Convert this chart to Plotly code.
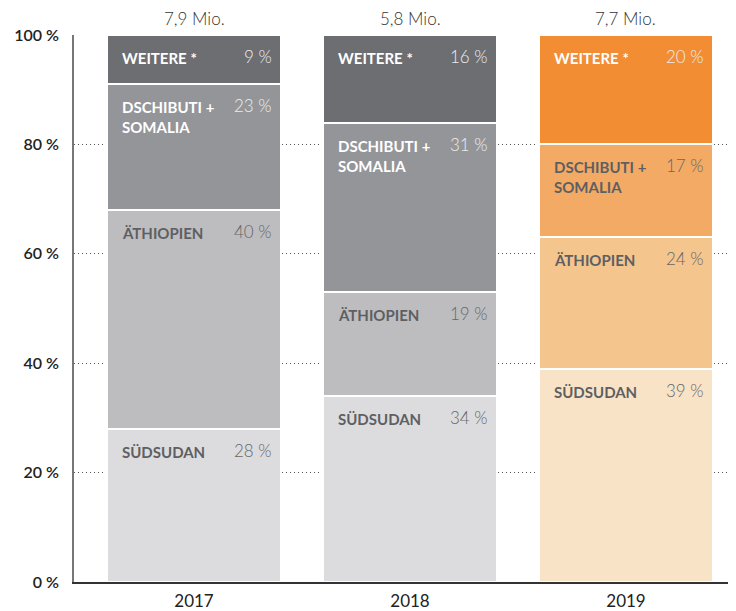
import plotly.graph_objects as go

years = ["2017", "2018", "2019"]
totals = ["7,9 Mio.", "5,8 Mio.", "7,7 Mio."]
series = ["SÜDSUDAN", "ÄTHIOPIEN", "DSCHIBUTI +<br>SOMALIA", "WEITERE *"]
suedsudan = [28, 34, 39]
aethiopien = [40, 19, 24]
dschibuti = [23, 31, 17]
weitere = [9, 16, 20]
values = [suedsudan, aethiopien, dschibuti, weitere]

gray_cols = ["#dcdcde", "#bdbdbf", "#949599", "#6d6e72"]
orange_cols = ["#f9e3c6", "#f5c58e", "#f3aa64", "#f28d33"]

BW = 0.806
fig = go.Figure()
for k, name in enumerate(series):
    cols = [gray_cols[k], gray_cols[k], orange_cols[k]]
    fig.add_trace(go.Bar(
        x=years, y=values[k], name=name, width=BW,
        marker=dict(color=cols, line=dict(color="white", width=2)),
        hoverinfo="skip", showlegend=False))

FONT = "Lato"
annos = []
for i, yr in enumerate(years):
    cum = 0
    for k, name in enumerate(series):
        cum += values[k][i]
        dark_seg = (k >= 2 and i < 2) or (k == 3)
        lab_col = "white" if dark_seg else "#5e5f63"
        pct_col = "#ececec" if dark_seg else "#66676b"
        annos.append(dict(x=i - BW / 2, y=cum, xref="x", yref="y", text=f"<b>{name}</b>",
                          xanchor="left", yanchor="top", align="left", xshift=13, yshift=-12,
                          showarrow=False, font=dict(family=FONT, size=15, color=lab_col)))
        annos.append(dict(x=i + BW / 2, y=cum, xref="x", yref="y", text=f"{values[k][i]} %",
                          xanchor="right", yanchor="top", align="right", xshift=-7, yshift=-9,
                          showarrow=False, font=dict(family=FONT, size=17, color=pct_col, weight=300)))
    annos.append(dict(x=i, y=100, xref="x", yref="y", text=totals[i], xanchor="center",
                      yanchor="bottom", yshift=4, showarrow=False,
                      font=dict(family=FONT, size=17, color="#333333", weight=300)))

fig.update_layout(
    barmode="stack", width=728, height=603,
    margin=dict(l=66, r=0, t=27, b=29),
    plot_bgcolor="white", paper_bgcolor="white",
    annotations=annos, bargap=0,
    xaxis=dict(type="category", range=[-0.5556, 2.5093], showline=True, linecolor="#333333",
               linewidth=1.5, showgrid=False, ticks="", ticklabelstandoff=3,
               tickfont=dict(family=FONT, size=17, color="#222222"), fixedrange=True),
    yaxis=dict(range=[0, 100], tickvals=[0, 20, 40, 60, 80, 100],
               ticktext=["0 %", "20 %", "40 %", "60 %", "80 %", "100 %"],
               showline=True, linecolor="#777777", linewidth=1.5,
               showgrid=True, gridcolor="#555555", griddash="1px,3px", gridwidth=1,
               zeroline=False, ticks="", ticklabelstandoff=10,
               tickfont=dict(family=FONT, size=16, color="#222222", weight=600), fixedrange=True),
)
fig.write_html("out.html")
